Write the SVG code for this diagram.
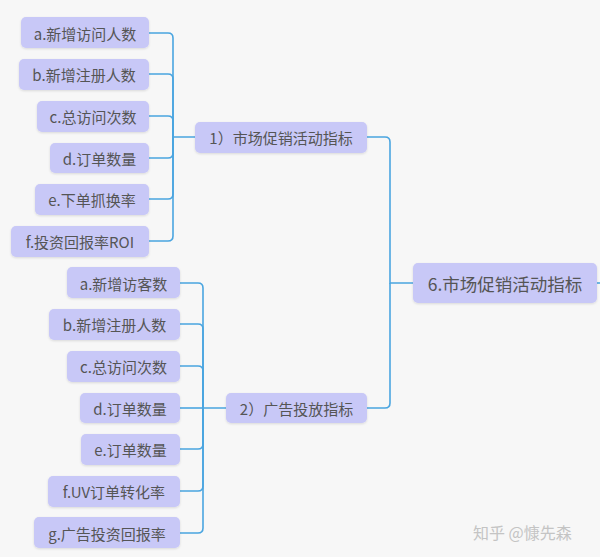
<svg xmlns="http://www.w3.org/2000/svg" width="600" height="557" viewBox="0 0 600 557">
<defs>
<filter id="sh" x="-10%" y="-20%" width="120%" height="150%">
<feDropShadow dx="0" dy="1" stdDeviation="1" flood-color="#000" flood-opacity="0.12"/>
</filter>
</defs>
<style>
.n rect{fill:#c8c8f7;filter:url(#sh)}
.n text{font-family:"Noto Sans CJK SC","Microsoft YaHei",sans-serif;fill:#555;font-size:15px;text-anchor:middle;dominant-baseline:central}
.big text{font-size:17.5px}
.c path{fill:none;stroke:#4aa5e0;stroke-width:1.6}
.wm{font-family:"Noto Sans CJK SC",sans-serif;font-size:16px;fill:#c4c4c4}
</style>
<rect width="600" height="557" fill="#f7f7f7"/>
<g class="c">
<path d="M195,137H173V38Q173,33 168,33H149"/>
<path d="M173,137V79Q173,74 168,74H149"/>
<path d="M173,137V121Q173,116 168,116H149"/>
<path d="M173,137V153Q173,158 168,158H149"/>
<path d="M173,137V194Q173,199 168,199H149"/>
<path d="M173,137V236Q173,241 168,241H149"/>
<path d="M226,408H203V288Q203,283 198,283H180"/>
<path d="M203,408V329Q203,324 198,324H180"/>
<path d="M203,408V371Q203,366 198,366H180"/>
<path d="M203,408H180"/>
<path d="M203,408V444Q203,449 198,449H180"/>
<path d="M203,408V486Q203,491 198,491H180"/>
<path d="M203,408V528Q203,533 198,533H180"/>
<path d="M413,283H390V142Q390,137 385,137H367"/>
<path d="M390,283V403Q390,408 385,408H367"/>
<path d="M597,283H600"/>
</g>
<g id="root" class="n big"><rect x="413" y="263" width="184" height="40" rx="5"/><text x="505" y="283">6.市场促销活动指标</text></g>
<g id="p1" class="n"><rect x="195" y="122" width="172" height="31" rx="5"/><text x="281" y="137">1）市场促销活动指标</text></g>
<g id="p2" class="n"><rect x="226" y="393" width="141" height="30" rx="5"/><text x="296.5" y="408">2）广告投放指标</text></g>
<g id="a1" class="n"><rect x="21" y="17" width="128" height="31" rx="5"/><text x="85" y="33">a.新增访问人数</text></g>
<g id="b1" class="n"><rect x="19" y="59" width="130" height="31" rx="5"/><text x="84" y="74">b.新增注册人数</text></g>
<g id="c1" class="n"><rect x="37" y="101" width="112" height="31" rx="5"/><text x="93" y="116">c.总访问次数</text></g>
<g id="d1" class="n"><rect x="50" y="143" width="99" height="30" rx="5"/><text x="99.5" y="158">d.订单数量</text></g>
<g id="e1" class="n"><rect x="35" y="184" width="114" height="31" rx="5"/><text x="92" y="199">e.下单抓换率</text></g>
<g id="f1" class="n"><rect x="11" y="226" width="138" height="31" rx="5"/><text x="80" y="241">f.投资回报率ROI</text></g>
<g id="a2" class="n"><rect x="67" y="267" width="113" height="31" rx="5"/><text x="123.5" y="283">a.新增访客数</text></g>
<g id="b2" class="n"><rect x="49" y="309" width="131" height="31" rx="5"/><text x="114.5" y="324">b.新增注册人数</text></g>
<g id="c2" class="n"><rect x="67" y="351" width="113" height="31" rx="5"/><text x="123.5" y="366">c.总访问次数</text></g>
<g id="d2" class="n"><rect x="80" y="393" width="100" height="30" rx="5"/><text x="130" y="408">d.订单数量</text></g>
<g id="e2" class="n"><rect x="81" y="434" width="99" height="31" rx="5"/><text x="130.5" y="449">e.订单数量</text></g>
<g id="f2" class="n"><rect x="48" y="476" width="132" height="31" rx="5"/><text x="114" y="491">f.UV订单转化率</text></g>
<g id="g2" class="n"><rect x="34" y="517" width="146" height="31" rx="5"/><text x="107" y="533">g.广告投资回报率</text></g>
<text class="wm" x="473" y="539">知乎 @慷先森</text>
</svg>
